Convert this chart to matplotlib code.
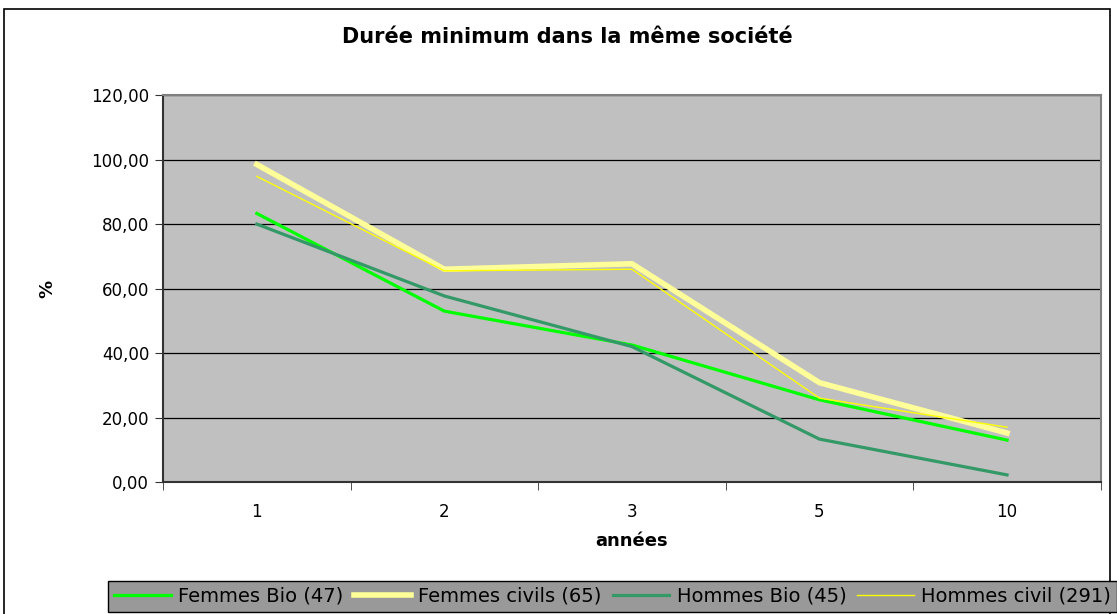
import matplotlib.pyplot as plt
from matplotlib.ticker import FuncFormatter

plt.rcParams['font.family'] = ['DejaVu Sans']

annees = ['1', '2', '3', '5', '10']
femmes_bio = [83.3, 53.0, 42.5, 25.5, 13.0]
femmes_civils = [98.5, 66.0, 67.7, 30.8, 15.2]
hommes_bio = [80.0, 57.7, 42.0, 13.3, 2.2]
hommes_civil = [94.8, 65.5, 66.0, 26.0, 17.0]

fig = plt.figure(figsize=(11.17, 6.14), dpi=100)
# cadre du graphique
fig.patches.append(plt.Rectangle((0.004, -0.01), 0.99, 0.995, transform=fig.transFigure,
                                 fill=False, edgecolor='black', linewidth=1.2))
ax = fig.add_axes([0.146, 0.215, 0.8395, 0.63])
ax.set_facecolor('#c0c0c0')

x = list(range(len(annees)))
ax.plot(x, femmes_bio, color='#00ff00', lw=2.3, label='Femmes Bio (47)')
ax.plot(x, femmes_civils, color='#ffff99', lw=4.0, label='Femmes civils (65)')
ax.plot(x, hommes_bio, color='#339966', lw=2.3, label='Hommes Bio (45)')
ax.plot(x, hommes_civil, color='#ffff00', lw=1.0, label='Hommes civil (291)')

ax.set_xlim(-0.5, len(annees) - 0.5)
ax.set_ylim(0, 120)
ax.set_yticks(range(0, 121, 20))
ax.yaxis.set_major_formatter(FuncFormatter(lambda v, p: ('%.2f' % v).replace('.', ',')))
ax.set_xticks(x)
ax.set_xticklabels(annees)
ax.set_xticks([i - 0.5 for i in range(len(annees) + 1)], minor=True)
ax.tick_params(axis='x', which='major', length=0, pad=15, labelsize=12)
ax.tick_params(axis='x', which='minor', length=6, color='#333333')
ax.tick_params(axis='y', length=6, labelsize=12, pad=4, color='#333333')
ax.grid(axis='y', color='black', lw=0.9)
ax.set_axisbelow(True)
for s in ax.spines.values():
    s.set_color('#808080')
    s.set_linewidth(1.5)
ax.spines['left'].set_color('#333333')
ax.spines['bottom'].set_color('#333333')

fig.suptitle('Durée minimum dans la même société', x=0.508, y=0.94, va='center',
             fontsize=15, fontweight='bold')
ax.set_ylabel('%', fontsize=13, fontweight='bold', labelpad=25)
ax.set_xlabel('années', fontsize=13, fontweight='bold', labelpad=8)

leg = fig.legend(loc='lower left', bbox_to_anchor=(0.097, 0.004), ncol=4, fontsize=14,
                 frameon=True, fancybox=False, borderaxespad=0, handlelength=2.9,
                 columnspacing=0.55, handletextpad=0.4, borderpad=0.3)
leg.get_frame().set_facecolor('#999999')
leg.get_frame().set_edgecolor('black')
leg.get_frame().set_alpha(1)

fig.savefig('out.png', dpi=100)
